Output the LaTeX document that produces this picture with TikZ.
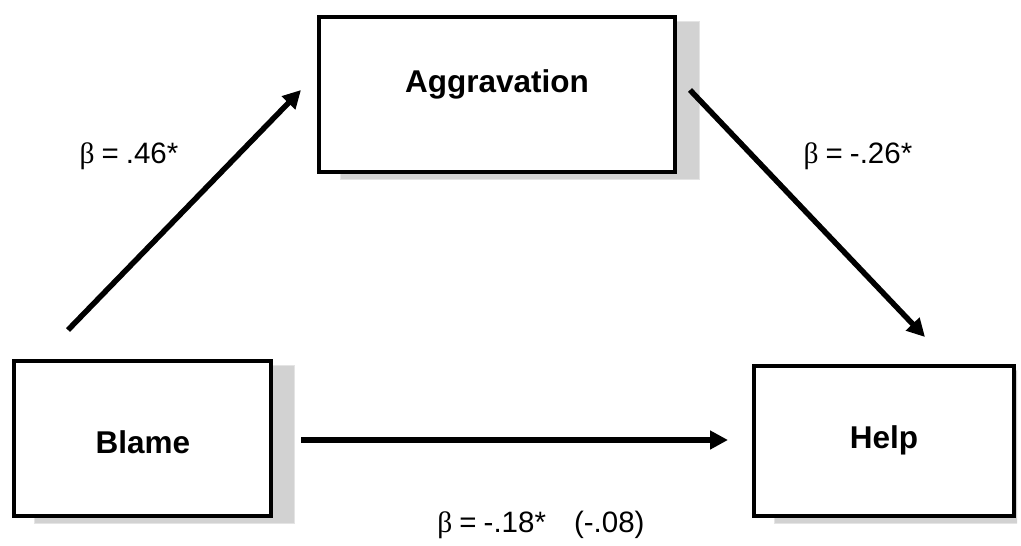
\documentclass[tikz,border=0pt]{standalone}
\usepackage{fontspec}
\setmainfont{Liberation Sans}
\newfontfamily\greekfont{Liberation Serif}
\usetikzlibrary{arrows.meta}
\definecolor{shadowgray}{HTML}{D2D2D2}
\definecolor{shadowedge}{HTML}{E4E4E4}
\newcommand{\betasym}{{\greekfont β}}
\begin{document}
\begin{tikzpicture}[x=1pt,y=-1pt,
  box/.style={draw=black,line width=4pt,fill=white,inner sep=0pt,rectangle},
  shadowbox/.style={fill=shadowgray,draw=shadowedge,line width=1pt,inner sep=0pt,rectangle},
  conn/.style={line width=5.5pt,-{Triangle[length=18pt,width=18pt]}},
  boxtext/.style={font=\fontsize{31.5}{36}\selectfont\bfseries,inner sep=0pt,anchor=base},
  coef/.style={font=\fontsize{29.5}{34}\selectfont,inner sep=0pt,anchor=base}]
\useasboundingbox (0,0) rectangle (1021,546);
% shadows
\node[shadowbox,minimum width=359pt,minimum height=158pt] (aggsh) at (519.5,100.5) {};
\node[shadowbox,minimum width=260pt,minimum height=158pt] (blamesh) at (164.5,444.5) {};
\begin{scope}
\clip (0,0) rectangle (1017,546);
\node[shadowbox,minimum width=263pt,minimum height=153pt] (helpsh) at (906,446.5) {};
\end{scope}
% boxes
\node[box,minimum width=356pt,minimum height=155pt] (agg) at (497,94.5) {};
\node[box,minimum width=257pt,minimum height=155pt] (blame) at (142.5,438.5) {};
\node[box,minimum width=260pt,minimum height=150pt] (help) at (884,441) {};
% box texts
\node[boxtext] (aggt) at (497,92) {Aggravation};
\node[boxtext] (blamet) at (143,453) {Blame};
\node[boxtext] (helpt) at (884,448) {Help};
% connector ends
\coordinate (a1s) at (68,330);
\coordinate (a1e) at (301,90);
\coordinate (a2s) at (690,90);
\coordinate (a2e) at (925,337);
\coordinate (a3s) at (301,440);
\coordinate (a3e) at (728,440);
\draw[conn] (a1s) -- (a1e);
\draw[conn] (a2s) -- (a2e);
\draw[conn] (a3s) -- (a3e);
% coefficients
\node[coef] (c1) at (129,163) {\betasym\hspace{7pt}=\hspace{7pt}.46*};
\node[coef] (c2) at (858,163) {\betasym\hspace{7pt}=\hspace{7pt}-.26*};
\node[coef] (c3) at (541,532) {\betasym\hspace{7pt}=\hspace{7pt}-.18*\hspace{28pt}(-.08)};
\end{tikzpicture}
\end{document}
